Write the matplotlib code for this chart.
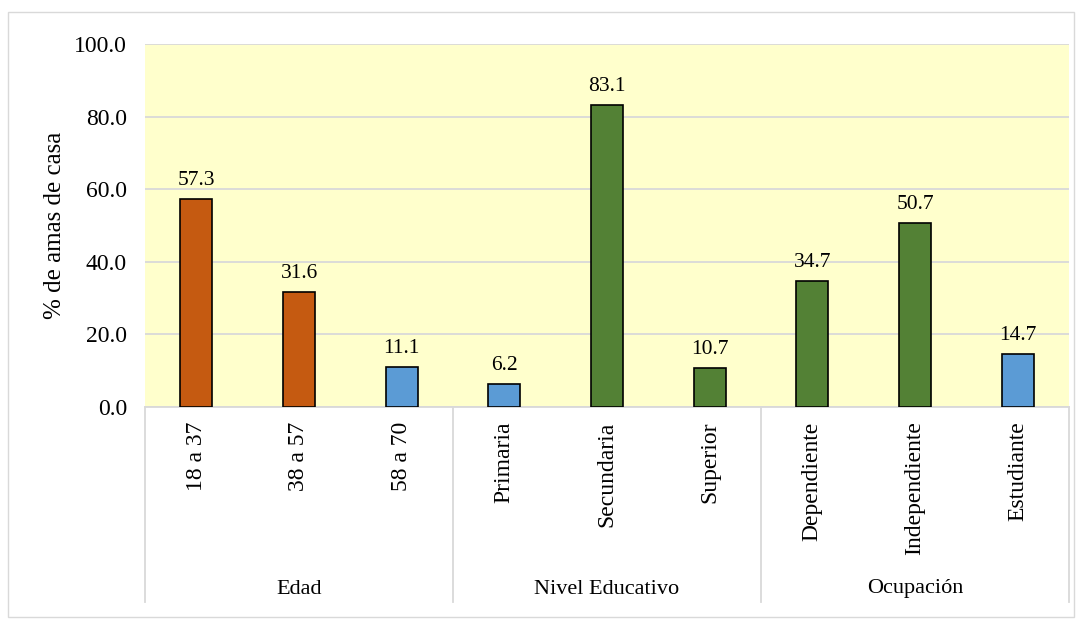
import matplotlib
matplotlib.use('Agg')
import numpy as np
import matplotlib.pyplot as plt
from matplotlib.patches import Rectangle
import matplotlib.transforms as mtransforms

plt.rcParams['font.family'] = ['Liberation Serif', 'DejaVu Serif']

# data
categories = ['18 a 37', '38 a 57', '58 a 70',
              'Primaria', 'Secundaria', 'Superior',
              'Dependiente', 'Independiente', 'Estudiante']
values = [57.3, 31.6, 11.1, 6.2, 83.1, 10.7, 34.7, 50.7, 14.7]
groups = ['Edad', 'Nivel Educativo', 'Ocupación']
group_sizes = [3, 3, 3]
bar_colors = ['#C55A11', '#C55A11', '#5B9BD5',
              '#5B9BD5', '#538135', '#538135',
              '#538135', '#538135', '#5B9BD5']
yticks = [0, 20, 40, 60, 80, 100]

fig = plt.figure(figsize=(10.82, 6.29), dpi=100)
ax = fig.add_axes([145/1082, 1-407/629, (1069-145)/1082, (407-44)/629])
ax.set_facecolor('#FFFFCC')

x = np.arange(len(categories))
ax.bar(x, values, width=0.31, color=bar_colors, edgecolor='black', linewidth=1.2, zorder=3)
for xi, v in zip(x, values):
    ax.text(xi, v + 2.5, '%.1f' % v, ha='center', va='bottom', fontsize=15.5)

ax.set_xlim(-0.5, len(categories) - 0.5)
ax.set_ylim(0, 100)
ax.set_yticks(yticks)
ax.set_yticklabels(['%.1f' % t for t in yticks], fontsize=17)
ax.yaxis.grid(True, color='#D9D9D9', linewidth=1.3, zorder=0)
ax.tick_params(axis='y', length=0, pad=13)
ax.tick_params(axis='x', length=0)
ax.set_xticks([])
for s in ['left', 'right', 'top']:
    ax.spines[s].set_visible(False)
ax.spines['bottom'].set_color('#D9D9D9')
ax.spines['bottom'].set_linewidth(1.3)
ax.set_ylabel('% de amas de casa', fontsize=18, labelpad=6)

# multi-level category axis below the plot
trans = mtransforms.blended_transform_factory(ax.transData, ax.transAxes)
bottom_sep = (407 - 602) / 363.0
for xi, c in zip(x, categories):
    ax.text(xi, -0.04, c, rotation=90, ha='center', va='top', fontsize=17, transform=trans)
start = 0
bounds = [-0.5]
for g, n in zip(groups, group_sizes):
    mid = start + (n - 1) / 2.0
    ax.text(mid, (407 - 589) / 363.0, g, ha='center', va='center', fontsize=16, transform=trans)
    start += n
    bounds.append(start - 0.5)
for b in bounds:
    ax.plot([b, b], [0, bottom_sep], color='#D9D9D9', linewidth=1.3, transform=trans, clip_on=False)

# chart frame
fig.patches.append(Rectangle((8/1082, 1-617/629), (1074-8)/1082, (617-12)/629,
                             transform=fig.transFigure, fill=False, edgecolor='#D9D9D9', linewidth=1))

plt.savefig('out.png', dpi=100)
